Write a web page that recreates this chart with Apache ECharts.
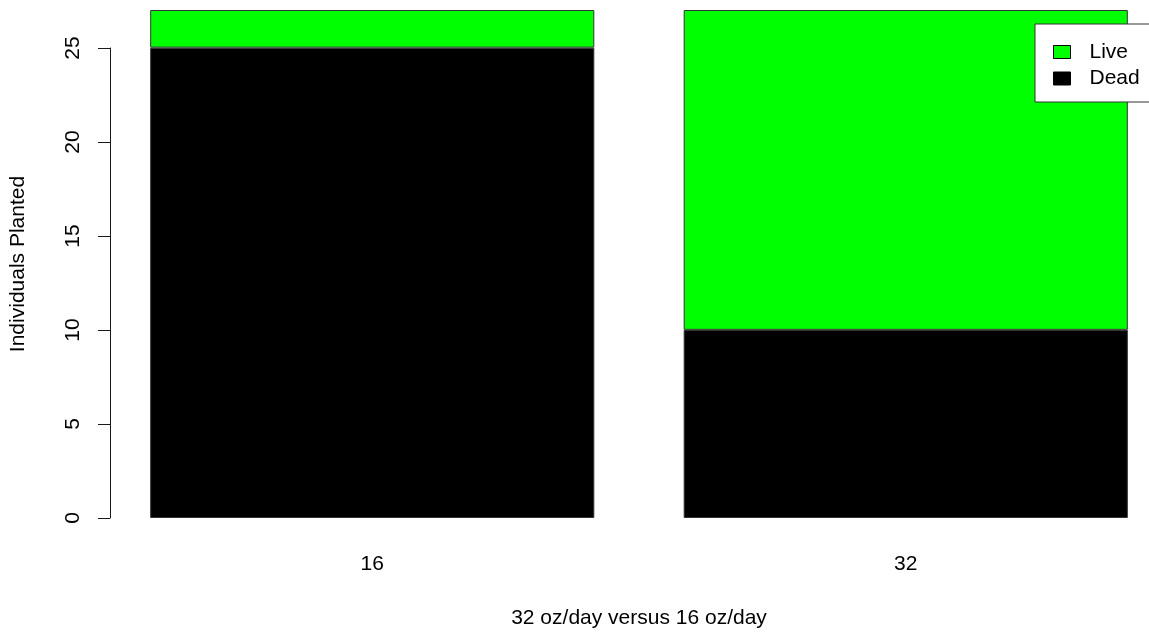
<!DOCTYPE html>
<html>
<head>
<meta charset="utf-8">
<title>Individuals Planted</title>
<script src="https://cdn.jsdelivr.net/npm/echarts@6/dist/echarts.min.js"></script>
<style>
  html, body { margin: 0; padding: 0; background: #fff; }
  #chart { width: 1149px; height: 633px; }
</style>
</head>
<body>
<div id="chart"></div>
<script>
// Watering rate groups (oz/day) and plant outcomes
const categories = ['16', '32'];
const dead = [25, 10];
const live = [2, 17];
const seriesNames = ['Live', 'Dead'];

const FONT = "'Liberation Sans', Arial, sans-serif";
const TEXT = '#000';
const LINE = '#1a1a1a';

const chart = echarts.init(document.getElementById('chart'), null, { renderer: 'canvas' });

chart.setOption({
  animation: false,
  backgroundColor: '#fff',
  textStyle: { fontFamily: FONT, color: TEXT },
  grid: [
    // plotting area for the stacked bars (extends past the right edge)
    { left: 105.5, width: 1067, top: 10, bottom: 115, outerBoundsMode: 'none', containLabel: false },
    // grid carrying the visible value axis (0–25 span)
    { left: 110, right: 100, top: 48, bottom: 115, outerBoundsMode: 'none', containLabel: false }
  ],
  xAxis: [
    {
      gridIndex: 0,
      type: 'category',
      data: categories,
      axisLine: { show: false },
      axisTick: { show: false },
      axisLabel: { margin: 36, fontSize: 21, color: TEXT, fontFamily: FONT },
      name: '32 oz/day versus 16 oz/day',
      nameLocation: 'middle',
      nameGap: 90,
      nameTextStyle: { fontSize: 21, color: TEXT, fontFamily: FONT }
    },
    { gridIndex: 1, type: 'category', data: categories, show: false }
  ],
  yAxis: [
    {
      gridIndex: 0,
      type: 'value',
      min: 0,
      max: 27,
      axisLine: { show: false },
      axisTick: { show: false },
      axisLabel: { show: false },
      splitLine: { show: false },
      name: 'Individuals Planted',
      nameLocation: 'middle',
      nameRotate: 90,
      nameGap: 77,
      nameTextStyle: { fontSize: 21, color: TEXT, fontFamily: FONT }
    },
    {
      gridIndex: 1,
      type: 'value',
      min: 0,
      max: 25,
      interval: 5,
      axisLine: { show: true, lineStyle: { color: LINE, width: 1 } },
      axisTick: { show: true, length: 12, lineStyle: { color: LINE, width: 1 } },
      axisLabel: { rotate: 90, margin: 26, fontSize: 21, color: TEXT, fontFamily: FONT },
      splitLine: { show: false }
    }
  ],
  legend: {
    data: seriesNames,
    orient: 'vertical',
    left: 1035,
    top: 24,
    padding: [17.5, 40, 13, 18],
    itemGap: 5.5,
    itemWidth: 17,
    itemHeight: 13,
    selectedMode: false,
    backgroundColor: '#fff',
    borderColor: '#333',
    borderWidth: 1,
    icon: 'rect',
    itemStyle: { borderColor: '#000', borderWidth: 1 },
    textStyle: { fontSize: 21, lineHeight: 21, color: TEXT, fontFamily: FONT, padding: [0, 0, 0, 14] }
  },
  series: [
    {
      name: 'Dead',
      type: 'bar',
      xAxisIndex: 0,
      yAxisIndex: 0,
      stack: 'total',
      data: dead,
      barCategoryGap: '16.75%',
      itemStyle: { color: '#000', borderColor: '#333', borderWidth: 1 }
    },
    {
      name: 'Live',
      type: 'bar',
      xAxisIndex: 0,
      yAxisIndex: 0,
      stack: 'total',
      data: live,
      barCategoryGap: '16.75%',
      itemStyle: { color: '#00ff00', borderColor: '#333', borderWidth: 1 }
    }
  ]
});
</script>
</body>
</html>
